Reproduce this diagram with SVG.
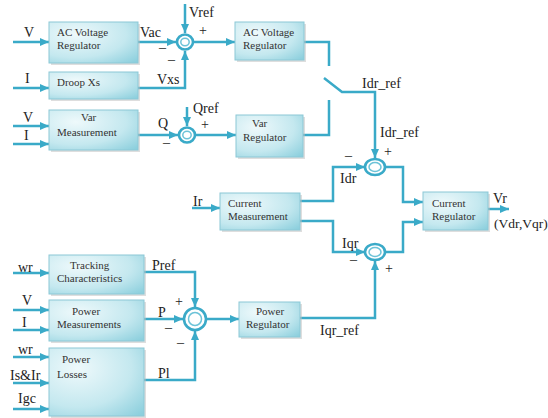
<svg xmlns="http://www.w3.org/2000/svg" width="548" height="418" viewBox="0 0 548 418">
<defs>
<radialGradient id="bg" cx="0.3" cy="0.3" r="0.95">
<stop offset="0" stop-color="#eef9fb"/>
<stop offset="0.6" stop-color="#c4e8ef"/>
<stop offset="1" stop-color="#8ccfdd"/>
</radialGradient>
<marker id="ar" markerUnits="userSpaceOnUse" markerWidth="9" markerHeight="8" refX="9" refY="4" orient="auto">
<path d="M0,0 L9,4 L0,8 z" fill="#3aaac8"/>
</marker>
</defs>
<style>
.blk rect.b{fill:url(#bg);stroke:#8cc8d6;stroke-width:1}
.blk rect.s{fill:#bdbdbd;opacity:0.5}
.bt{font-family:"Liberation Serif",serif;font-size:11px;fill:#333}
.lb{font-family:"Liberation Serif",serif;font-size:14px;fill:#222}
.cn path{fill:none;stroke:#3aaac8;stroke-width:2.5}
.cn path.a{marker-end:url(#ar)}
.sum .o{fill:#fff;stroke:#3aaac8;stroke-width:2.6}
.sum .i{fill:#fff;stroke:#6cc3d8;stroke-width:1.5}
</style>
<rect width="548" height="418" fill="#fff"/>

<g class="cn" id="connectors">
<path class="a" d="M13,42 H49"/>
<path class="a" d="M13,88 H49"/>
<path class="a" d="M13,126 H49"/>
<path class="a" d="M13,144 H49"/>
<path class="a" d="M138,42 H176"/>
<path class="a" d="M138,88 H185 V51"/>
<path class="a" d="M185,4 V33"/>
<path class="a" d="M194,42 H235"/>
<path d="M304,42 H329 V66"/>
<path class="a" d="M324,78 L342,92 H375 V158"/>
<path d="M329,100 V135 H303"/>
<path class="a" d="M138,135 H178"/>
<path class="a" d="M187,107 V126"/>
<path class="a" d="M196,135 H236"/>
<path class="a" d="M192,208 H220"/>
<path class="a" d="M300,201 H333 V167 H365"/>
<path class="a" d="M300,221 H333 V252 H365"/>
<path class="a" d="M385,167 H403 V202 H423"/>
<path class="a" d="M385,252 H403 V222 H423"/>
<path class="a" d="M488,209 H509"/>
<path class="a" d="M300,318 H375 V261"/>
<path class="a" d="M13,273 H49"/>
<path class="a" d="M13,310 H49"/>
<path class="a" d="M13,330 H49"/>
<path class="a" d="M13,357 H49"/>
<path class="a" d="M13,383 H49"/>
<path class="a" d="M13,409 H49"/>
<path class="a" d="M144,272 H195 V307"/>
<path class="a" d="M144,319 H183"/>
<path class="a" d="M144,380 H195 V331"/>
<path class="a" d="M207,319 H239"/>
</g>

<g class="sum" id="sum1"><ellipse class="o" cx="185" cy="42" rx="8" ry="7.5"/><ellipse class="i" cx="185" cy="42" rx="4.2" ry="3.8"/></g>
<g class="sum" id="sum2"><ellipse class="o" cx="187" cy="135" rx="8" ry="7.5"/><ellipse class="i" cx="187" cy="135" rx="4.2" ry="3.8"/></g>
<g class="sum" id="sum3"><circle class="o" cx="195" cy="319" r="11"/><circle class="i" cx="195" cy="319" r="6.5"/></g>
<g class="sum" id="sum4"><ellipse class="o" cx="375" cy="167" rx="10" ry="8"/><ellipse class="i" cx="375" cy="167" rx="6" ry="4.5"/></g>
<g class="sum" id="sum5"><ellipse class="o" cx="375" cy="252" rx="10" ry="8"/><ellipse class="i" cx="375" cy="252" rx="6" ry="4.5"/></g>

<g class="blk" id="acvr1"><rect class="s" x="51" y="24" width="89" height="41"/><rect class="b" x="49" y="22" width="89" height="41"/>
<text class="bt" x="57" y="36">AC Voltage</text><text class="bt" x="57" y="49">Regulator</text></g>
<g class="blk" id="droop"><rect class="s" x="51" y="74" width="89" height="27"/><rect class="b" x="49" y="72" width="89" height="27"/>
<text class="bt" x="57" y="86">Droop  Xs</text></g>
<g class="blk" id="varmeas"><rect class="s" x="51" y="112" width="89" height="40"/><rect class="b" x="49" y="110" width="89" height="40"/>
<text class="bt" x="81" y="121">Var</text><text class="bt" x="57" y="136">Measurement</text></g>
<g class="blk" id="acvr2"><rect class="s" x="237" y="24" width="69" height="38"/><rect class="b" x="235" y="22" width="69" height="38"/>
<text class="bt" x="243" y="36">AC Voltage</text><text class="bt" x="243" y="49">Regulator</text></g>
<g class="blk" id="varreg"><rect class="s" x="238" y="117" width="67" height="42"/><rect class="b" x="236" y="115" width="67" height="42"/>
<text class="bt" x="252" y="127">Var</text><text class="bt" x="243" y="141">Regulator</text></g>
<g class="blk" id="curmeas"><rect class="s" x="222" y="195" width="80" height="37"/><rect class="b" x="220" y="193" width="80" height="37"/>
<text class="bt" x="228" y="207">Current</text><text class="bt" x="228" y="220">Measurement</text></g>
<g class="blk" id="curreg"><rect class="s" x="425" y="194" width="65" height="38"/><rect class="b" x="423" y="192" width="65" height="38"/>
<text class="bt" x="432" y="207">Current</text><text class="bt" x="432" y="220">Regulator</text></g>
<g class="blk" id="track"><rect class="s" x="51" y="257" width="95" height="39"/><rect class="b" x="49" y="255" width="95" height="39"/>
<text class="bt" x="70" y="269">Tracking</text><text class="bt" x="57" y="282">Characteristics</text></g>
<g class="blk" id="powmeas"><rect class="s" x="51" y="302" width="95" height="41"/><rect class="b" x="49" y="300" width="95" height="41"/>
<text class="bt" x="72" y="315">Power</text><text class="bt" x="57" y="328">Measurements</text></g>
<g class="blk" id="powloss"><rect class="s" x="51" y="350" width="95" height="68"/><rect class="b" x="49" y="348" width="95" height="68"/>
<text class="bt" x="62" y="363">Power</text><text class="bt" x="57" y="378">Losses</text></g>
<g class="blk" id="powreg"><rect class="s" x="241" y="304" width="61" height="35"/><rect class="b" x="239" y="302" width="61" height="35"/>
<text class="bt" x="256" y="315">Power</text><text class="bt" x="246" y="328">Regulator</text></g>

<g id="labels" class="lb">
<text x="24" y="37">V</text>
<text x="25" y="83">I</text>
<text x="23" y="122">V</text>
<text x="24" y="140">I</text>
<text x="140" y="37">Vac</text>
<text x="157" y="84">Vxs</text>
<text x="159" y="52">–</text>
<text x="168" y="64">–</text>
<text x="189" y="17">Vref</text>
<text x="199" y="35">+</text>
<text x="158" y="128">Q</text>
<text x="163" y="147">–</text>
<text x="193" y="113">Qref</text>
<text x="201" y="129">+</text>
<text x="362" y="88">Idr_ref</text>
<text x="380" y="137">Idr_ref</text>
<text x="384" y="156">+</text>
<text x="345" y="160">–</text>
<text x="340" y="183">Idr</text>
<text x="342" y="248">Iqr</text>
<text x="350" y="264">–</text>
<text x="385" y="273">+</text>
<text x="493" y="203">Vr</text>
<text x="494" y="228" style="font-size:13.5px">(Vdr,Vqr)</text>
<text x="193" y="206">Ir</text>
<text x="320" y="335">Iqr_ref</text>
<text x="18" y="272">wr</text>
<text x="22" y="305">V</text>
<text x="22" y="327">I</text>
<text x="18" y="354">wr</text>
<text x="10" y="380">Is&amp;Ir</text>
<text x="18" y="403">Igc</text>
<text x="152" y="270">Pref</text>
<text x="158" y="317">P</text>
<text x="158" y="378">Pl</text>
<text x="175" y="306">+</text>
<text x="165" y="332">–</text>
<text x="177" y="347">–</text>
</g>
</svg>
